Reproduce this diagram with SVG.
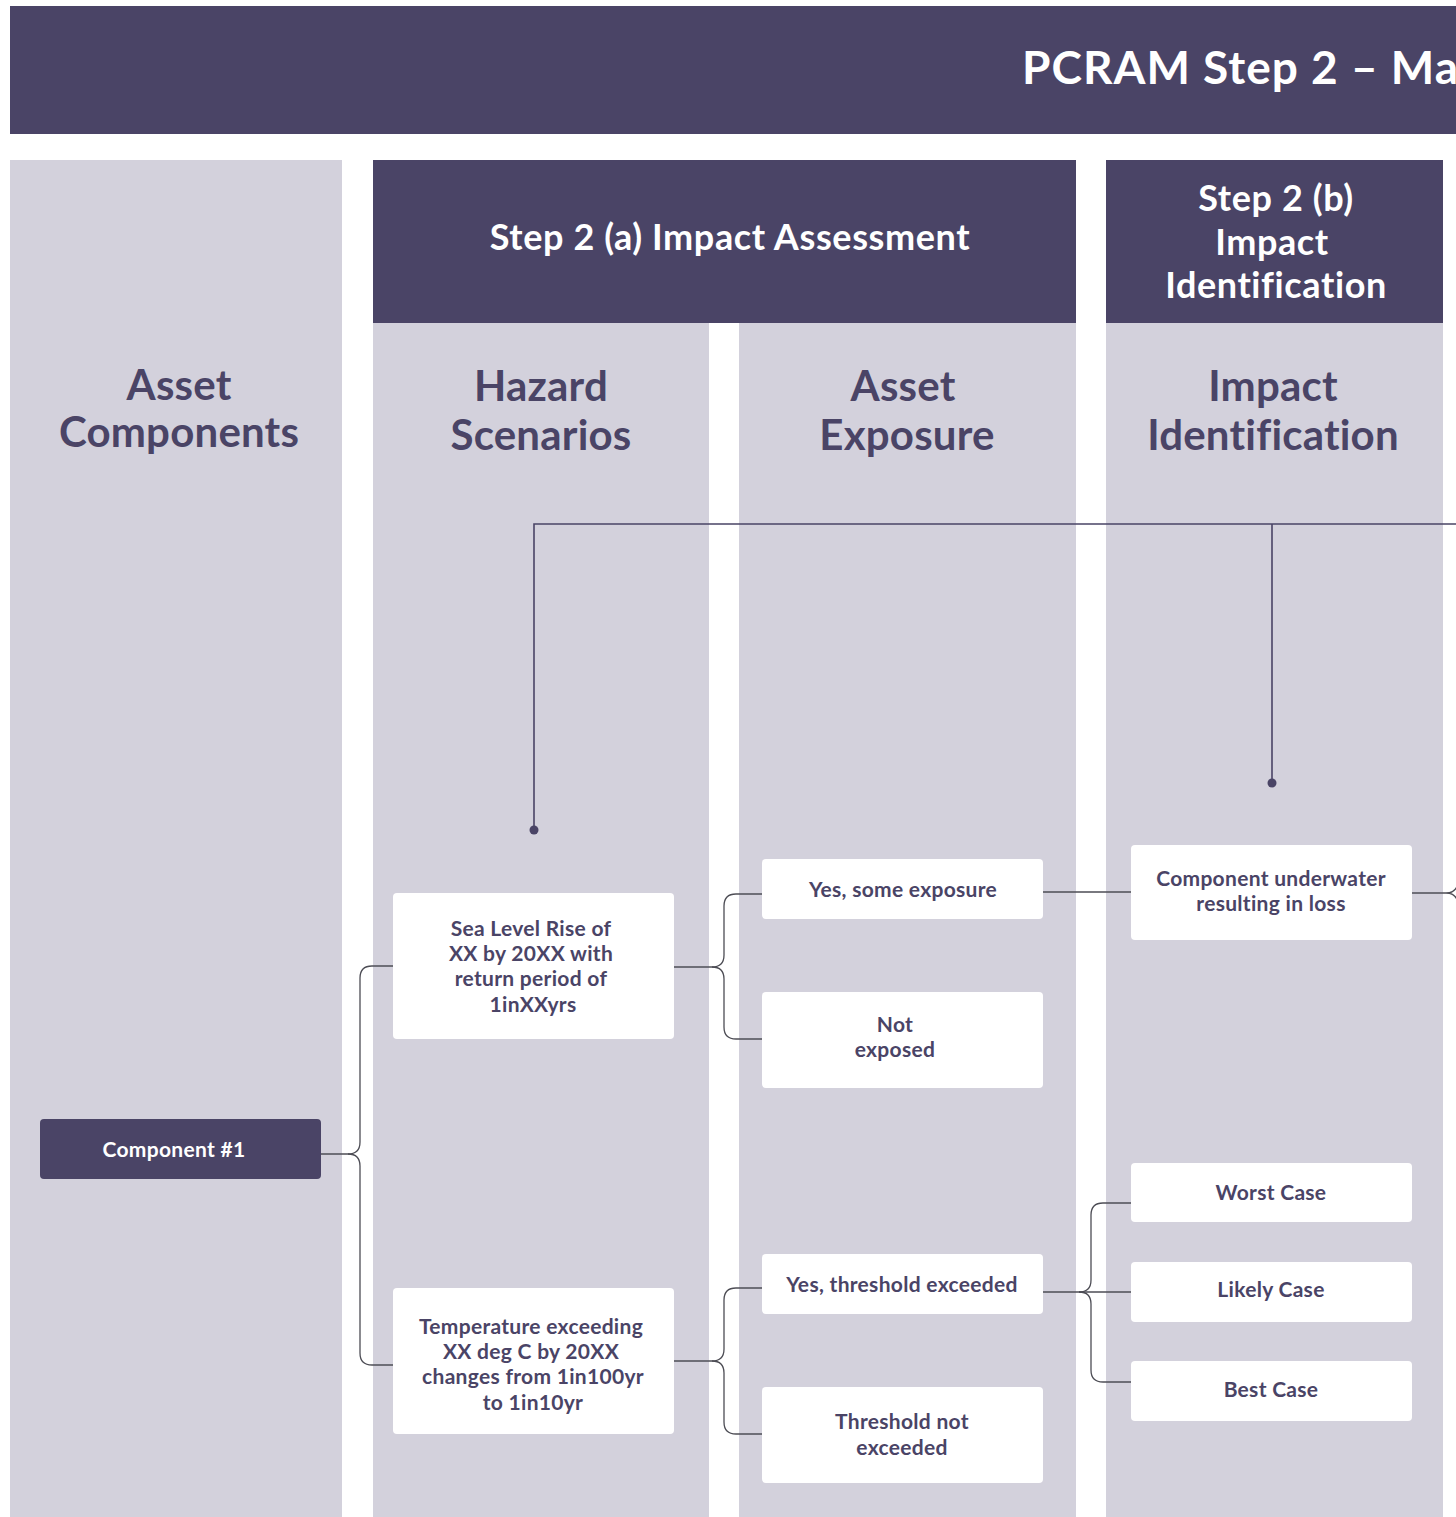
<svg xmlns="http://www.w3.org/2000/svg" width="1456" height="1517" viewBox="0 0 1456 1517">
  <style>
    .dark { fill: #4a4466; }
    .lane { fill: #d3d1dc; }
    .box { fill: #ffffff; }
    .t { font-family: Lato, "Open Sans", sans-serif; text-anchor: middle; }
    .title { font-size: 46px; font-weight: 700; fill: #ffffff; text-anchor: start; letter-spacing: 1px; }
    .head { font-size: 36px; font-weight: 700; fill: #ffffff; letter-spacing: 0.6px; }
    .col { font-size: 42px; font-weight: 700; fill: #4a4466; letter-spacing: 0.2px; }
    .lbl { font-size: 21px; font-weight: 700; fill: #4a4466; letter-spacing: 0.3px; }
    .lblw { font-size: 21px; font-weight: 700; fill: #ffffff; letter-spacing: 0.3px; }
    .wire { fill: none; stroke: #4d4d55; stroke-width: 1.3; }
    .link { fill: none; stroke: #4a4466; stroke-width: 1.6; }
    .dot { fill: #4a4466; }
  </style>
  <rect width="1456" height="1517" fill="#ffffff"/>

  <!-- title bar -->
  <g id="title">
    <rect class="dark" x="10" y="6" width="1446" height="128"/>
    <text class="t title" x="1022" y="84">PCRAM Step 2 – Ma</text>
  </g>

  <!-- lanes -->
  <g id="lanes">
    <rect class="lane" x="10" y="160" width="332" height="1357"/>
    <rect class="lane" x="373" y="160" width="336" height="1357"/>
    <rect class="lane" x="739" y="160" width="337" height="1357"/>
    <rect class="lane" x="1106" y="160" width="337" height="1357"/>
    <rect class="dark" x="373" y="160" width="703" height="163"/>
    <rect class="dark" x="1106" y="160" width="337" height="163"/>
  </g>

  <g id="headers">
    <text class="t head" x="730" y="250">Step 2 (a) Impact Assessment</text>
    <text class="t head" x="1276" y="211">Step 2 (b)</text>
    <text class="t head" x="1272" y="255">Impact</text>
    <text class="t head" x="1276" y="298">Identification</text>
    <text class="t col" x="179" y="400">Asset</text>
    <text class="t col" x="179" y="447">Components</text>
    <text class="t col" x="541" y="401">Hazard</text>
    <text class="t col" x="541" y="450">Scenarios</text>
    <text class="t col" x="903" y="401">Asset</text>
    <text class="t col" x="907" y="450">Exposure</text>
    <text class="t col" x="1273" y="401">Impact</text>
    <text class="t col" x="1273" y="450">Identification</text>
  </g>

  <!-- connectors -->
  <g id="connectors">
    <path class="link" d="M534 830 V524 H1456 M1272 524 V783"/>
    <circle class="dot" cx="534" cy="830" r="4.5"/>
    <circle class="dot" cx="1272" cy="783" r="4.5"/>
    <!-- Component #1 to hazards -->
    <path class="wire" d="M321 1154 H348 Q360 1154 360 1142 V978 Q360 966 372 966 H393"/>
    <path class="wire" d="M348 1154 Q360 1154 360 1166 V1353 Q360 1365 372 1365 H393"/>
    <!-- sea level rise to exposures -->
    <path class="wire" d="M674 967 H712 Q724 967 724 955 V906 Q724 894 736 894 H762"/>
    <path class="wire" d="M712 967 Q724 967 724 979 V1027 Q724 1039 736 1039 H762"/>
    <!-- temperature to exposures -->
    <path class="wire" d="M674 1361 H712 Q724 1361 724 1349 V1300 Q724 1288 736 1288 H762"/>
    <path class="wire" d="M712 1361 Q724 1361 724 1373 V1422 Q724 1434 736 1434 H762"/>
    <!-- exposure to impact -->
    <path class="wire" d="M1043 892 H1131"/>
    <path class="wire" d="M1412 893 H1446 Q1456 893 1458 883 M1446 893 Q1456 893 1458 903"/>
    <!-- threshold exceeded to cases -->
    <path class="wire" d="M1043 1292 H1131"/>
    <path class="wire" d="M1079 1292 Q1091 1292 1091 1280 V1215 Q1091 1203 1103 1203 H1131"/>
    <path class="wire" d="M1079 1292 Q1091 1292 1091 1304 V1370 Q1091 1382 1103 1382 H1131"/>
  </g>

  <!-- nodes -->
  <g id="component1">
    <rect class="dark" x="40" y="1119" width="281" height="60" rx="4"/>
    <text class="t lblw" x="174" y="1157">Component #1</text>
  </g>
  <g id="hazard-slr">
    <rect class="box" x="393" y="893" width="281" height="146" rx="4"/>
    <text class="t lbl" x="531" y="936">Sea Level Rise of</text>
    <text class="t lbl" x="531" y="961">XX by 20XX with</text>
    <text class="t lbl" x="531" y="986">return period of</text>
    <text class="t lbl" x="533" y="1012">1inXXyrs</text>
  </g>
  <g id="hazard-temp">
    <rect class="box" x="393" y="1288" width="281" height="146" rx="4"/>
    <text class="t lbl" x="531" y="1334">Temperature exceeding</text>
    <text class="t lbl" x="531" y="1359">XX deg C by 20XX</text>
    <text class="t lbl" x="533" y="1384">changes from 1in100yr</text>
    <text class="t lbl" x="533" y="1410">to 1in10yr</text>
  </g>
  <g id="exposure-yes">
    <rect class="box" x="762" y="859" width="281" height="60" rx="4"/>
    <text class="t lbl" x="903" y="897">Yes, some exposure</text>
  </g>
  <g id="exposure-no">
    <rect class="box" x="762" y="992" width="281" height="96" rx="4"/>
    <text class="t lbl" x="895" y="1032">Not</text>
    <text class="t lbl" x="895" y="1057">exposed</text>
  </g>
  <g id="threshold-yes">
    <rect class="box" x="762" y="1254" width="281" height="60" rx="4"/>
    <text class="t lbl" x="902" y="1292">Yes, threshold exceeded</text>
  </g>
  <g id="threshold-no">
    <rect class="box" x="762" y="1387" width="281" height="96" rx="4"/>
    <text class="t lbl" x="902" y="1429">Threshold not</text>
    <text class="t lbl" x="902" y="1455">exceeded</text>
  </g>
  <g id="impact-underwater">
    <rect class="box" x="1131" y="845" width="281" height="95" rx="4"/>
    <text class="t lbl" x="1271" y="886">Component underwater</text>
    <text class="t lbl" x="1271" y="911">resulting in loss</text>
  </g>
  <g id="worst-case">
    <rect class="box" x="1131" y="1163" width="281" height="59" rx="4"/>
    <text class="t lbl" x="1271" y="1200">Worst Case</text>
  </g>
  <g id="likely-case">
    <rect class="box" x="1131" y="1262" width="281" height="60" rx="4"/>
    <text class="t lbl" x="1271" y="1297">Likely Case</text>
  </g>
  <g id="best-case">
    <rect class="box" x="1131" y="1361" width="281" height="60" rx="4"/>
    <text class="t lbl" x="1271" y="1397">Best Case</text>
  </g>
</svg>
